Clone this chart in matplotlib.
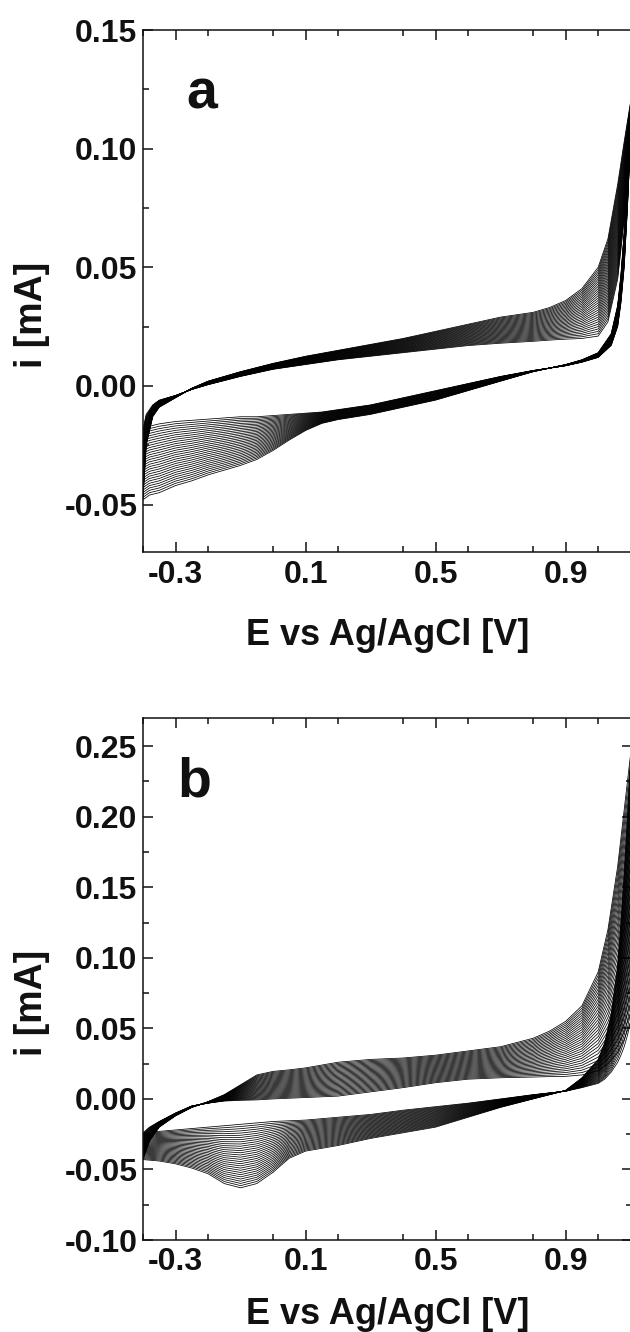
import numpy as np
import matplotlib.pyplot as plt
from matplotlib.ticker import MultipleLocator, FormatStrFormatter

plt.rcParams['font.family'] = ['Liberation Sans', 'DejaVu Sans']
plt.rcParams['font.weight'] = 'bold'
plt.rcParams['axes.unicode_minus'] = False

# panel a - forward (anodic) scan, first and last cycle
a_e_fwd = [-0.4, -0.39, -0.37, -0.35, -0.3, -0.25, -0.2, -0.1, 0.0, 0.1, 0.2, 0.3, 0.4, 0.5,
           0.6, 0.7, 0.8, 0.85, 0.9, 0.95, 1.0, 1.03, 1.06, 1.08, 1.1]
a_fwd_first = [-0.018, -0.012, -0.008, -0.006, -0.004, -0.0015, 0.0005, 0.004, 0.007, 0.009, 0.011,
               0.0125, 0.014, 0.0155, 0.017, 0.018, 0.0188, 0.0193, 0.0197, 0.020, 0.021, 0.027,
               0.045, 0.07, 0.105]
a_fwd_last = [-0.048, -0.025, -0.013, -0.009, -0.005, -0.001, 0.002, 0.006, 0.0095, 0.0125, 0.015,
              0.0175, 0.020, 0.023, 0.026, 0.029, 0.031, 0.033, 0.036, 0.041, 0.050, 0.062,
              0.085, 0.103, 0.12]

# panel a - reverse (cathodic) scan
a_e_rev = [1.1, 1.09, 1.08, 1.07, 1.06, 1.04, 1.0, 0.95, 0.9, 0.8, 0.7, 0.6, 0.5, 0.4, 0.3, 0.2,
           0.15, 0.1, 0.05, 0.0, -0.05, -0.1, -0.15, -0.2, -0.25, -0.3, -0.35, -0.38, -0.4]
a_rev_first = [0.105, 0.075, 0.05, 0.035, 0.025, 0.017, 0.012, 0.010, 0.0085, 0.0065, 0.004, 0.001,
               -0.002, -0.005, -0.008, -0.010, -0.011, -0.0115, -0.012, -0.0125, -0.013, -0.013,
               -0.0135, -0.014, -0.0145, -0.015, -0.016, -0.017, -0.018]
a_rev_last = [0.12, 0.09, 0.065, 0.047, 0.034, 0.022, 0.014, 0.011, 0.009, 0.006, 0.002, -0.002,
              -0.006, -0.009, -0.012, -0.0142, -0.0158, -0.0188, -0.0228, -0.0272, -0.031, -0.0335,
              -0.0355, -0.0375, -0.040, -0.042, -0.045, -0.046, -0.048]

# panel b - forward scan
b_e_fwd = [-0.4, -0.38, -0.35, -0.3, -0.25, -0.2, -0.15, -0.1, -0.05, 0.0, 0.05, 0.1, 0.2, 0.3,
           0.4, 0.5, 0.6, 0.7, 0.8, 0.85, 0.9, 0.95, 1.0, 1.03, 1.06, 1.08, 1.1]
b_fwd_first = [-0.024, -0.020, -0.016, -0.010, -0.005, -0.003, -0.0015, -0.001, -0.0007, 0.0,
               0.0005, 0.001, 0.002, 0.005, 0.008, 0.0115, 0.014, 0.015, 0.0155, 0.0158, 0.016,
               0.017, 0.020, 0.025, 0.033, 0.042, 0.055]
b_fwd_last = [-0.043, -0.030, -0.020, -0.012, -0.006, -0.002, 0.003, 0.010, 0.017, 0.0195, 0.0206,
              0.022, 0.026, 0.028, 0.029, 0.031, 0.034, 0.037, 0.043, 0.048, 0.055, 0.066, 0.09,
              0.12, 0.165, 0.205, 0.245]

# panel b - reverse scan
b_e_rev = [1.1, 1.09, 1.08, 1.07, 1.06, 1.04, 1.02, 1.0, 0.95, 0.9, 0.8, 0.7, 0.6, 0.5, 0.4, 0.3,
           0.2, 0.1, 0.05, 0.0, -0.05, -0.1, -0.15, -0.2, -0.25, -0.3, -0.35, -0.4]
b_rev_first = [0.055, 0.045, 0.037, 0.031, 0.026, 0.019, 0.014, 0.011, 0.008, 0.0055, 0.003, 0.0,
               -0.003, -0.0055, -0.008, -0.011, -0.013, -0.015, -0.0155, -0.016, -0.017, -0.018,
               -0.019, -0.020, -0.021, -0.022, -0.023, -0.024]
b_rev_last = [0.245, 0.2, 0.16, 0.125, 0.095, 0.06, 0.04, 0.028, 0.015, 0.006, 0.0, -0.006, -0.013,
              -0.020, -0.024, -0.028, -0.033, -0.037, -0.042, -0.052, -0.060, -0.063, -0.060,
              -0.053, -0.049, -0.046, -0.044, -0.043]

n_cycles = 30

x_ticks = [-0.3, 0.1, 0.5, 0.9]

fig = plt.figure(figsize=(6.3, 13.32), dpi=100)
W, H = 630, 1332


def panel(rect, e_fwd, fwd_first, fwd_last, e_rev, rev_first, rev_last, ylim, letter, letter_pos,
          xpad, xlab_y, right_ticks):
    ax = fig.add_axes(rect)
    for k in range(n_cycles):
        w = k / (n_cycles - 1)
        f = np.array(fwd_first) + w * (np.array(fwd_last) - np.array(fwd_first))
        r = np.array(rev_first) + w * (np.array(rev_last) - np.array(rev_first))
        ax.plot(e_fwd, f, color='black', lw=0.55)
        ax.plot(e_rev, r, color='black', lw=0.55)
    ax.set_xlim(-0.4, 1.104)
    ax.set_ylim(*ylim)
    ax.set_xticks(x_ticks)
    ax.xaxis.set_minor_locator(MultipleLocator(0.2))
    ax.xaxis.set_major_formatter(FormatStrFormatter('%.1f'))
    ax.yaxis.set_major_locator(MultipleLocator(0.05))
    ax.yaxis.set_minor_locator(MultipleLocator(0.025))
    ax.yaxis.set_major_formatter(FormatStrFormatter('%.2f'))
    ax.tick_params(which='both', direction='in', top=True, right=right_ticks, width=1.1,
                   labelsize=23, colors='#111111')
    ax.tick_params(which='major', length=7)
    ax.tick_params(which='minor', length=4.3)
    ax.tick_params(axis='x', pad=xpad)
    ax.tick_params(axis='y', pad=4)
    for s in ax.spines.values():
        s.set_linewidth(1.1)
        s.set_color('#111111')
    for lab in ax.get_xticklabels() + ax.get_yticklabels():
        lab.set_fontweight('bold')
    ax.set_xlabel('E vs Ag/AgCl [V]', fontsize=26, fontweight='bold', color='#111111')
    ax.set_ylabel('i [mA]', fontsize=27, fontweight='bold', color='#111111')
    ax.xaxis.set_label_coords(0.5, xlab_y)
    ax.yaxis.set_label_coords(-0.19, 0.455)
    ax.text(letter_pos[0], letter_pos[1], letter, transform=ax.transAxes, fontsize=40,
            fontweight='bold', color='#111111', ha='left', va='baseline')
    return ax


# zad a
panel([143 / W, 1 - 552 / H, 489 / W, 522 / H], a_e_fwd, a_fwd_first, a_fwd_last,
      a_e_rev, a_rev_first, a_rev_last, (-0.07, 0.15), 'a', (0.088, 0.85), 6, -0.127, False)

# zad b
panel([143 / W, 1 - 1240 / H, 489 / W, 522 / H], b_e_fwd, b_fwd_first, b_fwd_last,
      b_e_rev, b_rev_first, b_rev_last, (-0.10, 0.27), 'b', (0.07, 0.849), 5, -0.11, True)

plt.savefig('out.png', dpi=100)
